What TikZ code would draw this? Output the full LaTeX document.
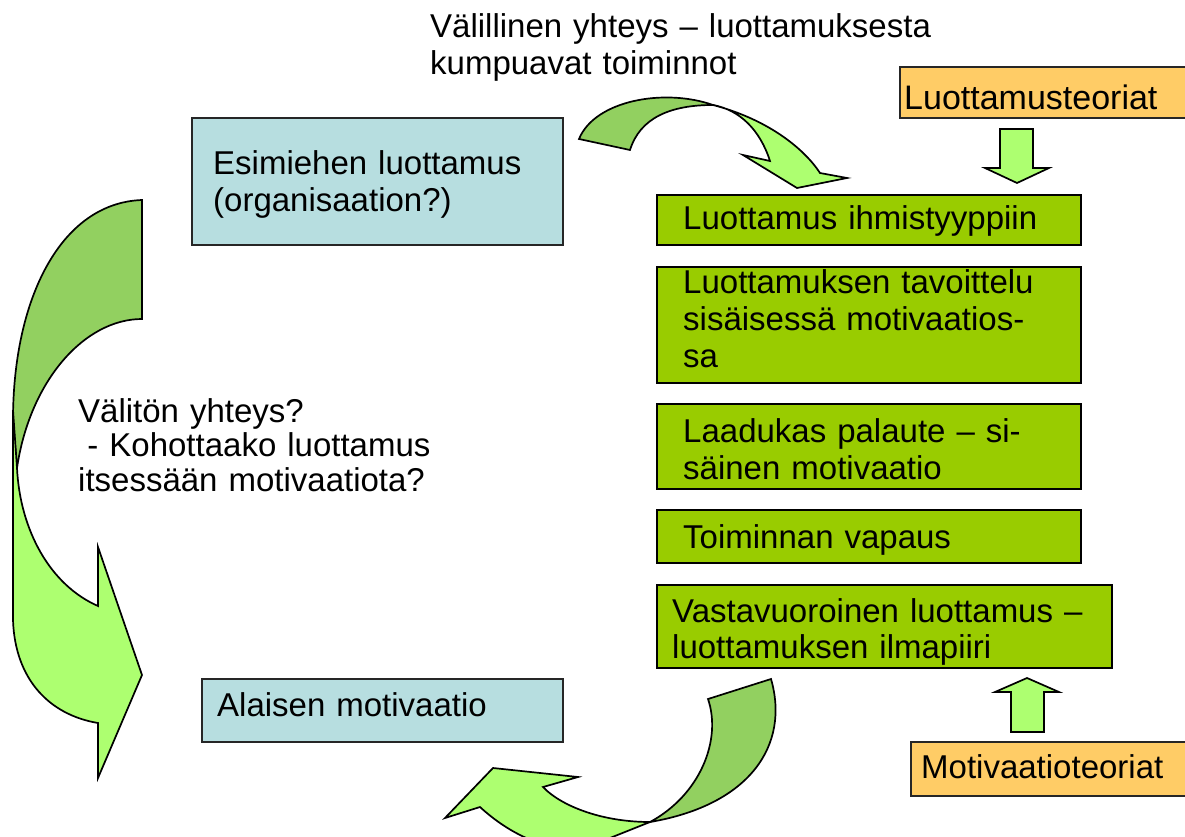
\documentclass[tikz,border=0pt]{standalone}
\usepackage{fontspec}
\setmainfont{Liberation Sans}

\definecolor{boxgreen}{HTML}{99CC00}
\definecolor{boxblue}{HTML}{B7DEE0}
\definecolor{boxorange}{HTML}{FFCC66}
\definecolor{arrowlight}{HTML}{ADFF70}
\definecolor{arrowdark}{HTML}{92D060}

\begin{document}
\begin{tikzpicture}[x=1pt, y=-1pt,
    txt/.style={anchor=base west, inner sep=0pt, align=left, text width=520pt,
      font=\fontsize{33}{37}\selectfont},
    greenbox/.style={fill=boxgreen, draw=black, line width=1.8pt},
    bluebox/.style={fill=boxblue, draw=black!85, line width=1.8pt},
    orangebox/.style={fill=boxorange, draw=black!85, line width=1.8pt},
    lightband/.style={fill=arrowlight, draw=black, line width=1.7pt, line join=miter},
    darkband/.style={fill=arrowdark, draw=black, line width=1.7pt, line join=miter}]

  \useasboundingbox (0,0) rectangle (1185,837);
  \clip (0,0) rectangle (1185,837);

  % ────────────────────────────────────────────────────────────────────
  % Left column: superior's trust and subordinate's motivation
  % ────────────────────────────────────────────────────────────────────
  \filldraw[bluebox] (192,118) rectangle (563,245);
  \node[txt] (esimies) at (213,175) {Esimiehen luottamus\\(organisaation?)};

  \filldraw[bluebox] (202,679) rectangle (563,742);
  \node[txt] (alainen) at (217,716) {Alaisen motivaatio};

  % Direct link (big curved arrow on the left)
  \filldraw[darkband] (142,200) .. controls (60,203) and (13,300) .. (13,420)
    -- (17,468) .. controls (30,380) and (85,319) .. (142,319) -- cycle;
  \filldraw[lightband] (13,410) -- (13,620) .. controls (15,680) and (50,715) .. (98,723)
    -- (98,778) -- (142,675) -- (98,547) -- (98,606)
    .. controls (50,585) and (20,530) .. (17,468) -- cycle;
  \node[txt, font=\fontsize{33}{34.5}\selectfont] (valiton) at (78,422)
    {Välitön yhteys?\\\hspace*{0.28em}- Kohottaako luottamus\\itsessään motivaatiota?};

  % ────────────────────────────────────────────────────────────────────
  % Indirect link (curved arrow on top)
  % ────────────────────────────────────────────────────────────────────
  \node[txt] (valillinen) at (430,38)
    {Välillinen yhteys – luottamuksesta\\kumpuavat toiminnot};
  \filldraw[darkband] (579,139) .. controls (595,100) and (665,88) .. (713,105)
    .. controls (670,105) and (640,118) .. (630,150) -- cycle;
  \filldraw[lightband] (713,105) .. controls (770,120) and (805,150) .. (820,173)
    -- (847,178) -- (797,188) -- (743,155) -- (770,161)
    .. controls (760,130) and (740,110) .. (713,105) -- cycle;

  % ────────────────────────────────────────────────────────────────────
  % Right column: trust-based actions
  % ────────────────────────────────────────────────────────────────────
  \filldraw[greenbox] (657,195) rectangle (1081,245);
  \node[txt] (tyyppi) at (683,229) {Luottamus ihmistyyppiin};

  \filldraw[greenbox] (657,267) rectangle (1081,383);
  \node[txt] (tavoittelu) at (683,293)
    {Luottamuksen tavoittelu\\sisäisessä motivaatios-\\sa};

  \filldraw[greenbox] (657,404) rectangle (1081,489);
  \node[txt] (palaute) at (683,442) {Laadukas palaute – si-\\säinen motivaatio};

  \filldraw[greenbox] (657,510) rectangle (1081,563);
  \node[txt] (vapaus) at (683,548) {Toiminnan vapaus};

  \filldraw[greenbox] (657,585) rectangle (1112,668);
  \node[txt, font=\fontsize{33}{36}\selectfont] (vastavuoroinen) at (672,622)
    {Vastavuoroinen luottamus –\\luottamuksen ilmapiiri};

  % Back to motivation (curved arrow at the bottom)
  \filldraw[darkband] (708,699) -- (771,679) .. controls (790,745) and (750,805) .. (650,822)
    .. controls (700,795) and (722,740) .. (708,699) -- cycle;
  \filldraw[lightband] (650,822) .. controls (600,822) and (560,805) .. (543,787)
    -- (578,777) -- (493,768) -- (445,818) -- (480,807)
    .. controls (505,830) and (540,850) .. (580,850) -- cycle;

  % ────────────────────────────────────────────────────────────────────
  % Theories feeding in (orange boxes, straight block arrows)
  % ────────────────────────────────────────────────────────────────────
  \filldraw[orangebox] (900,67) rectangle (1195,118);
  \node[txt, font=\fontsize{34}{37}\selectfont] (luotteoria) at (904,110) {Luottamusteoriat};
  \filldraw[lightband] (1000,129) -- (1033,129) -- (1033,168) -- (1049,168)
    -- (1017,183) -- (985,168) -- (1000,168) -- cycle;

  \filldraw[orangebox] (911,742) rectangle (1195,796);
  \node[txt] (motteoria) at (921,778) {Motivaatioteoriat};
  \filldraw[lightband] (1011,732) -- (1044,732) -- (1044,692) -- (1059,692)
    -- (1027,678) -- (995,692) -- (1011,692) -- cycle;

\end{tikzpicture}
\end{document}
